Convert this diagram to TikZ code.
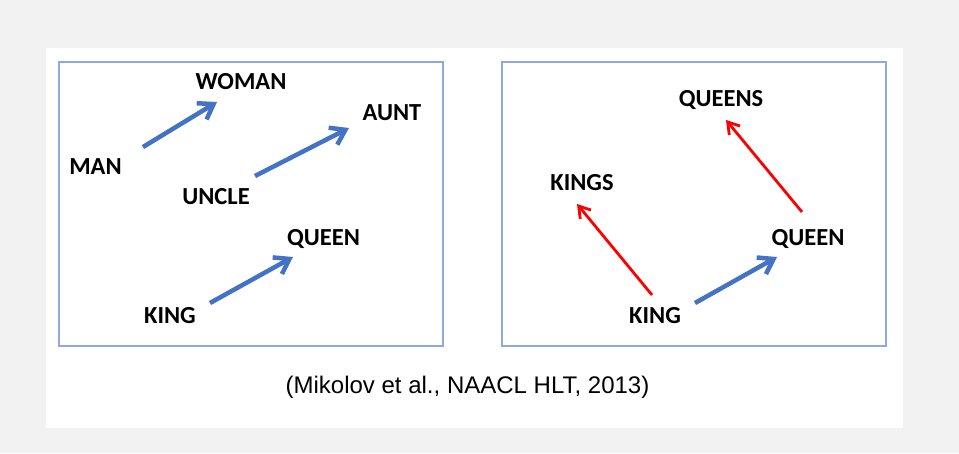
\documentclass[tikz,border=0pt]{standalone}
\usepackage{fontspec}
\setmainfont{Carlito}
\newfontfamily\capfont{Liberation Sans}
\usetikzlibrary{arrows.meta}
\definecolor{bgray}{HTML}{F2F2F2}
\definecolor{boxblue}{HTML}{8EA9DB}
\definecolor{arrblue}{HTML}{4472C4}
\definecolor{arrred}{HTML}{FF0000}
\tikzset{
  word/.style={anchor=base, inner sep=0pt, font=\fontsize{24.5}{29}\selectfont\bfseries, text=black},
  panel/.style={draw=boxblue, line width=1.3pt},
  bluearr/.style={draw=arrblue, line width=4.5pt, -{Straight Barb[length=14pt,width=19pt]}},
  redarr/.style={draw=arrred, line width=2.8pt, -{Straight Barb[length=11pt,width=14pt]}},
}
\begin{document}
\begin{tikzpicture}[x=1pt,y=1pt]
\fill[bgray] (0,0) rectangle (959,-453);
\useasboundingbox (0,0) rectangle (959,-453);
\fill[white] (46,-48) rectangle (903,-428);
\draw[panel] (59,-62) rectangle (443,-346);
\draw[panel] (502,-62) rectangle (886,-346);
% left panel
\node[word] (woman) at (241,-89) {WOMAN};
\node[word] (man) at (95.5,-174) {MAN};
\node[word] (uncle) at (216,-204) {UNCLE};
\node[word] (aunt) at (392,-120) {AUNT};
\node[word] (queenL) at (323.5,-245) {QUEEN};
\node[word] (kingL) at (170,-323) {KING};
% right panel
\node[word] (queens) at (721,-106) {QUEENS};
\node[word] (kings) at (582,-190) {KINGS};
\node[word] (queenR) at (808,-245) {QUEEN};
\node[word] (kingR) at (655,-323) {KING};
% caption
\node[anchor=base, inner sep=0pt, font=\capfont\fontsize{24}{28}\selectfont, text=black] (cap) at (467.5,-393) {(Mikolov et al., NAACL HLT, 2013)};
% arrow end points
\coordinate (manT) at (143,-147);
\coordinate (womanH) at (217,-102);
\coordinate (uncleT) at (255,-176);
\coordinate (auntH) at (349,-128);
\coordinate (kingLT) at (210,-303);
\coordinate (queenLH) at (293,-257);
\coordinate (kingRT) at (695,-303);
\coordinate (queenRH) at (777,-257);
\coordinate (kingRT2) at (652,-295);
\coordinate (kingsH) at (577,-204);
\coordinate (queenRT) at (802,-212);
\coordinate (queensH) at (726,-120);
\draw[bluearr] (manT) -- (womanH);
\draw[bluearr] (uncleT) -- (auntH);
\draw[bluearr] (kingLT) -- (queenLH);
\draw[bluearr] (kingRT) -- (queenRH);
\draw[redarr] (kingRT2) -- (kingsH);
\draw[redarr] (queenRT) -- (queensH);
\end{tikzpicture}
\end{document}
